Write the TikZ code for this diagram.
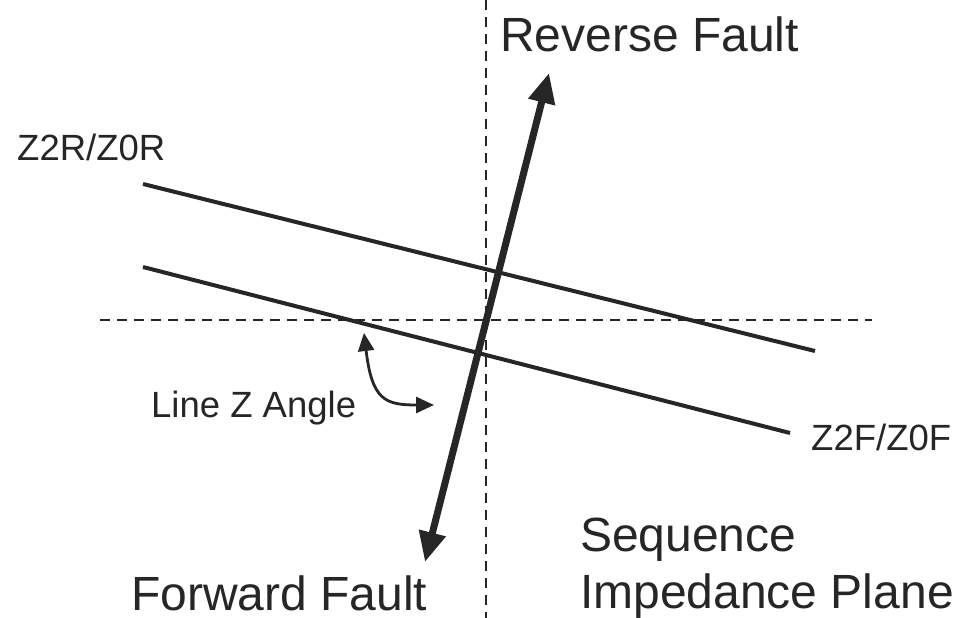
\documentclass[tikz,border=0pt]{standalone}
\usepackage{fontspec}
\setmainfont{Liberation Sans}
\usetikzlibrary{arrows.meta}
\begin{document}
\begin{tikzpicture}[x=1pt,y=-1pt,
  axisline/.style={line width=1.6pt,dash pattern=on 10pt off 7pt,black!85},
  zline/.style={line width=4pt,black!85},
  faultarrow/.style={line width=7pt,black!85,{Triangle[length=30pt,width=26pt]}-{Triangle[length=30pt,width=26pt]}},
  anglearrow/.style={line width=2.8pt,black!85,{Triangle[length=18pt,width=16pt]}-{Triangle[length=18pt,width=16pt]}},
  bigtext/.style={font=\fontsize{48}{52}\selectfont,inner sep=0pt,anchor=base west,text=black!85},
  smalltext/.style={font=\fontsize{36.5}{40}\selectfont,inner sep=0pt,anchor=base west,text=black!85}]
\useasboundingbox (0,0) rectangle (964,618);
\coordinate (vtop) at (486,0);
\coordinate (vbot) at (486,618);
\coordinate (hl) at (100,320);
\coordinate (hr) at (872,320);
\draw[axisline] (vtop) -- (vbot);
\draw[axisline] (hl) -- (hr);
\coordinate (r1) at (143,184);
\coordinate (r2) at (815,351);
\coordinate (f1) at (143,267);
\coordinate (f2) at (790,433);
\draw[zline] (r1) -- (r2);
\draw[zline] (f1) -- (f2);
\coordinate (fa) at (425,562);
\coordinate (ra) at (549,73);
\draw[faultarrow] (fa) -- (ra);
\coordinate (a1) at (364,333);
\coordinate (a2) at (434,405);
\draw[anglearrow] (a1) .. controls (372,400) and (385,405) .. (a2);
\node[bigtext] (rev) at (500,52) {Reverse Fault};
\node[bigtext] (fwd) at (131,610) {Forward Fault};
\node[bigtext] (seq) at (580,551) {Sequence};
\node[bigtext] (imp) at (580,608) {Impedance Plane};
\node[smalltext] (zr) at (17,160) {Z2R/Z0R};
\node[smalltext] (zf) at (811,450) {Z2F/Z0F};
\node[smalltext] (lz) at (151,417) {Line Z Angle};
\end{tikzpicture}
\end{document}
